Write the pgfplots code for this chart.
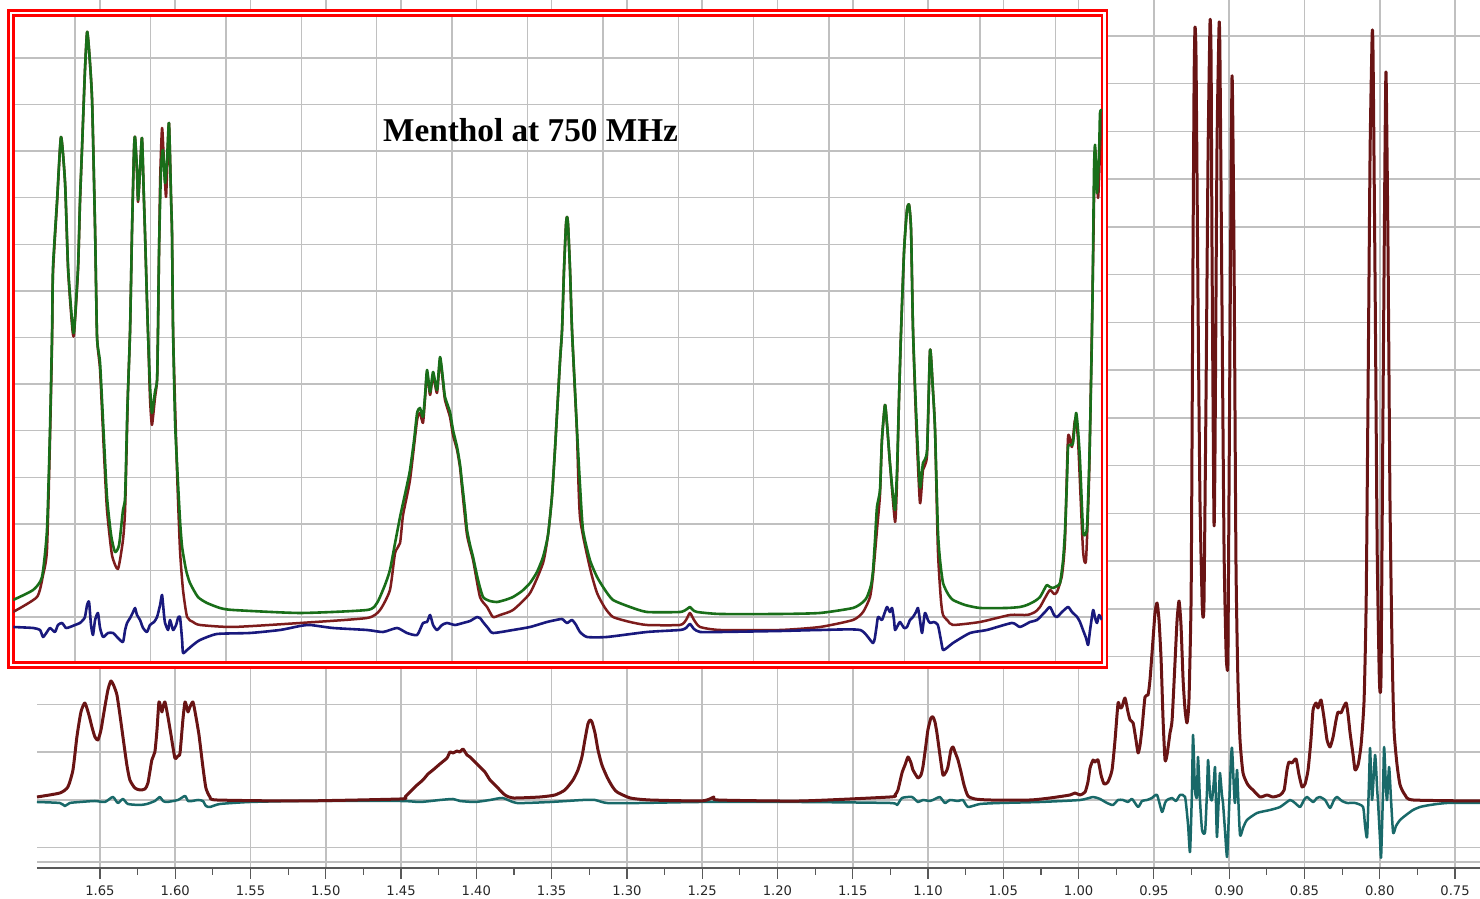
\documentclass[border=0pt]{standalone}
\usepackage{fontspec}
\usepackage{pgfplots}
\pgfplotsset{compat=1.18}
\setmainfont{DejaVu Sans}
\newfontfamily\titlefont{Liberation Serif}
\definecolor{specred}{RGB}{105,20,20}
\definecolor{resteal}{RGB}{25,105,105}
\definecolor{insgreen}{RGB}{25,110,25}
\definecolor{insred}{RGB}{125,28,28}
\definecolor{insblue}{RGB}{25,25,125}
\definecolor{gridgray}{RGB}{192,192,192}
\begin{document}
\begin{tikzpicture}[x=1bp,y=1bp]
\path[use as bounding box] (0,0) rectangle (740,449.5);
\begin{axis}[
  at={(18.5bp,15.5bp)}, anchor=south west, scale only axis,
  width=721.5bp, height=434bp,
  xmin=0.7334, xmax=1.6918, x dir=reverse, ymin=-68, ymax=800,
  clip=false,
  axis line style={draw=none},
  xtick={0.75,0.8,0.85,0.9,0.95,1.0,1.05,1.1,1.15,1.2,1.25,1.3,1.35,1.4,1.45,1.5,1.55,1.6,1.65},
  minor x tick num=1,
  xtick pos=lower, ytick pos=left, tick align=outside,
  major tick length=5.5bp, minor tick length=3.5bp,
  every tick/.style={black!65, line width=0.6bp},
  ytick={-62,-47.75,0,47.75,95.5,143.25,191,238.75,286.5,334.25,382,429.75,477.5,525.25,573,620.75,668.5,716.25,764},
  yticklabels={}, ytick style={draw=none},
  xticklabel style={font=\fontsize{6.6}{7}\selectfont, text=black!85,
    /pgf/number format/fixed, /pgf/number format/fixed zerofill,
    /pgf/number format/precision=2, /pgf/number format/assume math mode=true},
  grid=major, major grid style={gridgray, line width=0.75bp},
  every axis plot/.append style={smooth, tension=0.35, line join=round},
]
\draw[black!65, line width=0.8bp] (rel axis cs:0,0) -- (rel axis cs:1,0);
% residual (teal)
\addplot[resteal, line width=1.25bp] coordinates {
(1.6918,-2)(1.6766,-3)(1.6733,-6)(1.67,-3)(1.6633,-2)(1.6533,-1)(1.6467,-2)(1.6414,3)(1.6381,-3)(1.6347,1)(1.6314,-4)(1.6234,-5)(1.6188,-4)(1.6135,-1)(1.6102,3)(1.6081,-1)(1.6055,-2)(1.5982,0)(1.5935,4)(1.5915,-1)(1.5888,-1)(1.5848,0)(1.5816,-1)(1.5796,-6)(1.5769,-7)(1.5703,-4)(1.5504,-2)(1.5172,-1)(1.4507,-1)(1.4374,-2)(1.4242,0)(1.4155,1)(1.4109,-1)(1.4009,-2)(1.3909,0)(1.3825,2)(1.3731,-3)(1.351,-2)(1.3292,0)(1.3212,0)(1.3132,-3)(1.2913,-3)(1.2515,-2)(1.185,-2)(1.1253,-3)(1.1206,-5)(1.1173,2)(1.1107,3)(1.1067,-2)(1.1034,0)(1.0987,-1)(1.0954,1)(1.0921,3)(1.0888,-3)(1.0855,0)(1.0801,-1)(1.0768,0)(1.0735,-7)(1.0655,-4)(1.0522,-3)(1.0257,-2)(0.999,0)(0.9904,3)(0.9858,1)(0.9811,-3)(0.9772,-5)(0.9738,0)(0.9705,0)(0.9672,-2)(0.9645,1)(0.9605,-7)(0.9579,-1)(0.9546,0)(0.9513,2)(0.9479,5)(0.9446,-12)(0.9426,-3)(0.9413,0)(0.9379,2)(0.9353,-1)(0.9326,5)(0.9293,3)(0.9273,-25)(0.926,-52)(0.9247,10)(0.924,65)(0.9227,10)(0.9214,3)(0.9207,43)(0.9194,0)(0.918,-30)(0.916,-32)(0.9147,10)(0.914,40)(0.9127,5)(0.9114,0)(0.9101,20)(0.9094,33)(0.9088,0)(0.9081,-37)(0.9067,10)(0.9061,27)(0.9048,5)(0.9041,-3)(0.9028,-30)(0.9014,-57)(0.9001,-10)(0.8988,40)(0.8981,52)(0.8968,10)(0.8961,-3)(0.8948,30)(0.8942,10)(0.8928,-35)(0.8908,-28)(0.8882,-20)(0.8815,-13)(0.8729,-10)(0.8662,-7)(0.8596,0)(0.8563,-3)(0.8529,-7)(0.8503,0)(0.8483,3)(0.8443,-2)(0.8417,2)(0.8397,3)(0.8363,0)(0.833,-8)(0.8304,0)(0.8284,3)(0.8251,-1)(0.8217,-3)(0.8164,-3)(0.8111,-7)(0.8098,-25)(0.8084,-37)(0.8071,20)(0.8064,52)(0.8051,0)(0.8031,45)(0.8017,10)(0.8011,-3)(0.7998,-40)(0.7991,-57)(0.7978,10)(0.7971,53)(0.7958,10)(0.7951,0)(0.7938,33)(0.7925,0)(0.7911,-33)(0.7892,-26)(0.7865,-20)(0.7825,-15)(0.7779,-10)(0.7732,-7)(0.7666,-5)(0.7553,-3)(0.7334,-3)
};
% spectrum (maroon)
\addplot[specred, line width=1.5bp] coordinates {
(1.6918,3)(1.6766,7)(1.6713,13)(1.6679,30)(1.6653,63)(1.6626,88)(1.66,97)(1.6573,85)(1.6553,73)(1.6533,63)(1.6513,60)(1.6493,70)(1.6473,88)(1.6447,110)(1.6427,119)(1.6407,114)(1.6387,105)(1.6367,85)(1.6347,63)(1.6321,35)(1.6301,20)(1.6268,12)(1.6234,10)(1.6201,11)(1.6181,17)(1.6155,40)(1.6135,48)(1.6121,70)(1.6108,98)(1.6095,92)(1.6088,88)(1.6081,93)(1.6068,98)(1.6048,83)(1.6028,65)(1.6002,42)(1.5982,44)(1.5968,47)(1.5949,80)(1.5935,98)(1.5922,92)(1.5915,88)(1.5902,93)(1.5882,98)(1.5862,83)(1.5842,65)(1.5816,33)(1.5796,12)(1.5769,3)(1.5723,0)(1.5172,-1)(1.4507,1)(1.4474,3)(1.4441,8)(1.4401,14)(1.4355,20)(1.4321,26)(1.4288,30)(1.4242,36)(1.4195,42)(1.4175,48)(1.4155,47)(1.4129,49)(1.4109,48)(1.4089,51)(1.4062,45)(1.4042,43)(1.4009,38)(1.3976,33)(1.3943,28)(1.3909,20)(1.3863,13)(1.381,5)(1.3757,2)(1.3578,3)(1.3478,5)(1.3412,10)(1.3358,20)(1.3325,30)(1.3299,43)(1.3279,60)(1.3259,76)(1.3245,80)(1.3232,78)(1.3212,67)(1.3192,50)(1.3166,35)(1.3132,23)(1.3099,14)(1.3066,8)(1.2978,2)(1.2847,0)(1.2515,-1)(1.2449,1)(1.2422,3)(1.2395,0)(1.185,-1)(1.1253,3)(1.122,5)(1.12,10)(1.1173,27)(1.1153,35)(1.1133,43)(1.1113,37)(1.11,30)(1.1067,22)(1.1047,25)(1.1034,33)(1.1014,55)(1.1001,70)(1.0981,82)(1.0967,83)(1.0954,78)(1.0941,67)(1.0921,45)(1.0901,25)(1.0881,28)(1.0868,33)(1.0848,50)(1.0834,53)(1.0821,48)(1.0801,40)(1.0781,28)(1.0761,15)(1.0735,4)(1.0688,1)(1.0589,0)(1.0323,0)(1.019,2)(1.0057,5)(1.0024,7)(0.999,5)(0.9957,8)(0.9938,18)(0.9924,32)(0.9904,40)(0.9891,38)(0.9871,40)(0.9851,25)(0.9831,16)(0.9805,18)(0.9778,30)(0.9758,60)(0.9738,97)(0.9725,92)(0.9712,93)(0.9692,102)(0.9672,88)(0.9658,80)(0.9638,77)(0.9619,60)(0.9605,47)(0.9592,55)(0.9578,73)(0.9559,103)(0.9539,105)(0.9526,120)(0.9506,160)(0.9492,188)(0.9479,197)(0.9466,180)(0.9452,140)(0.9439,80)(0.9426,40)(0.9413,45)(0.9393,67)(0.9379,80)(0.9359,140)(0.9346,180)(0.9333,199)(0.932,175)(0.9306,120)(0.9293,90)(0.928,77)(0.9267,100)(0.9253,200)(0.9247,350)(0.924,550)(0.9233,720)(0.9227,773)(0.922,740)(0.9207,500)(0.9194,300)(0.918,200)(0.9174,183)(0.9167,200)(0.9154,400)(0.914,650)(0.9127,779)(0.912,740)(0.9114,550)(0.9101,278)(0.9094,350)(0.9081,650)(0.9067,776)(0.9061,740)(0.9048,500)(0.9034,250)(0.9021,150)(0.9014,132)(0.9008,150)(0.8995,450)(0.8981,724)(0.8968,550)(0.8955,240)(0.8942,120)(0.8928,60)(0.8908,27)(0.8875,15)(0.8842,10)(0.8795,3)(0.8749,5)(0.8709,3)(0.8662,5)(0.8635,10)(0.8616,30)(0.8603,38)(0.8583,37)(0.8556,41)(0.8536,25)(0.8516,13)(0.8496,16)(0.8476,30)(0.8457,60)(0.8443,90)(0.8423,97)(0.841,92)(0.839,100)(0.837,82)(0.835,60)(0.833,53)(0.831,63)(0.829,80)(0.8277,88)(0.8257,87)(0.8243,92)(0.8223,97)(0.821,85)(0.8197,67)(0.8177,45)(0.8164,30)(0.8144,35)(0.8124,55)(0.8104,100)(0.809,200)(0.8077,420)(0.8064,650)(0.805,767)(0.8044,740)(0.803,500)(0.8017,250)(0.8004,130)(0.7998,108)(0.7991,130)(0.7978,400)(0.7965,650)(0.7958,727)(0.7945,550)(0.7932,300)(0.7918,150)(0.7905,70)(0.7885,35)(0.7865,15)(0.7832,5)(0.7779,0)(0.7334,-1)
};
\end{axis}
\fill[white] (4.25,115.75) rectangle (553.5,444.25);
\draw[red, line width=1.05bp] (4.25,115.75) rectangle (553.5,444.25);
\begin{axis}[
  at={(6.75bp,118.25bp)}, anchor=south west, scale only axis,
  width=544.25bp, height=323.5bp,
  xmin=0.9691, xmax=1.6908, x dir=reverse, ymin=0.5, ymax=647.5,
  axis background/.style={fill=white},
  axis line style={red, line width=1.05bp},
  xtick={1.0,1.05,1.1,1.15,1.2,1.25,1.3,1.35,1.4,1.45,1.5,1.55,1.6,1.65},
  ytick={45.9,92.5,139.1,185.7,232.3,278.9,325.5,372.1,418.7,465.3,511.9,558.5,605.1},
  xticklabels={}, yticklabels={}, tick style={draw=none},
  grid=major, major grid style={gridgray, line width=0.75bp},
  clip=true,
  every axis plot/.append style={smooth, tension=0.35, line join=round},
]
\addplot[insred, line width=1.25bp] coordinates {
(1.6911,51)(1.6752,66)(1.6712,88)(1.6686,113)(1.6666,223)(1.6652,323)(1.6646,390)(1.6619,460)(1.6593,526)(1.6566,480)(1.6546,393)(1.652,338)(1.6507,328)(1.648,393)(1.6467,460)(1.6454,513)(1.6434,593)(1.642,631)(1.6407,613)(1.6387,563)(1.6367,433)(1.6354,326)(1.6334,293)(1.6308,210)(1.6288,153)(1.6255,108)(1.6215,94)(1.6182,123)(1.6168,153)(1.6155,233)(1.6149,271)(1.6135,333)(1.6122,433)(1.6109,513)(1.6102,526)(1.6089,490)(1.6082,461)(1.6069,493)(1.6056,525)(1.6043,463)(1.6036,430)(1.6023,363)(1.6016,330)(1.6003,265)(1.599,238)(1.597,265)(1.5956,283)(1.595,333)(1.5936,480)(1.5923,535)(1.591,500)(1.5897,466)(1.589,490)(1.5877,540)(1.5863,463)(1.5857,430)(1.585,333)(1.5824,193)(1.5804,113)(1.5784,73)(1.5757,46)(1.5718,41)(1.5671,38)(1.5452,36)(1.5008,40)(1.4564,45)(1.4478,53)(1.4412,73)(1.4378,110)(1.4345,120)(1.4325,148)(1.4279,183)(1.4232,243)(1.4213,250)(1.4193,240)(1.4179,265)(1.4166,290)(1.4146,268)(1.4126,288)(1.41,270)(1.408,303)(1.406,280)(1.4047,263)(1.4014,246)(1.3994,228)(1.3967,213)(1.3947,195)(1.3934,175)(1.3901,128)(1.3861,103)(1.3815,66)(1.3768,56)(1.3729,46)(1.3682,48)(1.3596,53)(1.3483,70)(1.3397,100)(1.3364,128)(1.3338,166)(1.3318,213)(1.3304,250)(1.3284,303)(1.3271,333)(1.3258,393)(1.3245,438)(1.3238,446)(1.3231,438)(1.3218,393)(1.3205,333)(1.3185,270)(1.3172,230)(1.3152,146)(1.3086,95)(1.3039,70)(1.2986,55)(1.2933,46)(1.282,41)(1.2708,38)(1.2489,38)(1.2449,43)(1.2423,50)(1.2396,43)(1.2356,36)(1.2224,33)(1.1826,33)(1.1561,36)(1.1342,43)(1.1275,51)(1.1229,66)(1.1209,88)(1.1183,133)(1.1163,168)(1.115,223)(1.113,258)(1.1116,238)(1.1097,200)(1.1063,141)(1.105,183)(1.1037,263)(1.1023,333)(1.1003,413)(1.0984,453)(1.097,458)(1.0957,433)(1.0944,333)(1.0924,243)(1.0898,160)(1.0878,193)(1.0851,208)(1.0831,313)(1.0812,273)(1.0798,233)(1.0779,113)(1.0759,63)(1.0745,48)(1.0712,42)(1.0679,38)(1.05,41)(1.0301,48)(1.0188,48)(1.0135,51)(1.0102,56)(1.0069,65)(1.0036,73)(1.0009,69)(0.9989,71)(0.9956,88)(0.9936,123)(0.9916,226)(0.989,216)(0.987,243)(0.985,223)(0.9817,113)(0.9797,103)(0.9777,183)(0.9764,283)(0.975,403)(0.9737,513)(0.9717,465)(0.9704,513)(0.9691,553)
};
\addplot[insgreen, line width=1.3bp] coordinates {
(1.6911,63)(1.6778,73)(1.6719,86)(1.6686,133)(1.6666,233)(1.6652,333)(1.6646,396)(1.6619,463)(1.6593,526)(1.6566,480)(1.6546,396)(1.652,343)(1.6507,331)(1.648,396)(1.6467,463)(1.6454,513)(1.6434,593)(1.642,631)(1.6407,613)(1.6387,563)(1.6367,433)(1.6354,326)(1.6334,300)(1.6308,223)(1.6288,166)(1.6261,128)(1.6235,111)(1.6208,118)(1.6182,153)(1.6168,166)(1.6155,243)(1.6149,271)(1.6135,333)(1.6122,433)(1.6109,513)(1.6102,526)(1.6089,493)(1.6082,463)(1.6069,493)(1.6056,525)(1.6043,463)(1.6036,430)(1.6023,363)(1.6016,330)(1.6003,278)(1.599,250)(1.597,271)(1.5956,283)(1.595,330)(1.5943,413)(1.593,493)(1.5917,513)(1.5903,480)(1.589,503)(1.5877,540)(1.5863,463)(1.5857,430)(1.585,333)(1.5837,243)(1.5824,200)(1.5804,143)(1.579,116)(1.5764,93)(1.5738,80)(1.5685,66)(1.5625,60)(1.5539,55)(1.5452,53)(1.5008,50)(1.4564,53)(1.4498,60)(1.4445,78)(1.4412,93)(1.4378,120)(1.4345,146)(1.4325,160)(1.4299,178)(1.4279,193)(1.4252,223)(1.4232,250)(1.4213,255)(1.4193,246)(1.4179,268)(1.4166,293)(1.4146,271)(1.4126,291)(1.41,273)(1.408,306)(1.406,283)(1.4047,266)(1.4014,251)(1.3994,233)(1.3967,216)(1.3947,198)(1.3934,180)(1.3914,153)(1.3901,133)(1.3881,118)(1.3861,106)(1.3828,83)(1.3795,66)(1.3749,62)(1.3702,61)(1.3649,63)(1.3596,66)(1.3536,72)(1.3483,80)(1.3437,91)(1.3397,106)(1.3364,128)(1.3338,166)(1.3318,213)(1.3304,250)(1.3284,303)(1.3271,333)(1.3258,393)(1.3245,438)(1.3238,446)(1.3231,438)(1.3218,393)(1.3205,333)(1.3185,273)(1.3172,233)(1.3152,178)(1.3132,133)(1.3086,103)(1.3039,86)(1.2986,73)(1.2933,63)(1.282,56)(1.2708,51)(1.2489,51)(1.2442,54)(1.2423,56)(1.2403,53)(1.2376,51)(1.2224,49)(1.1826,49)(1.1561,50)(1.1342,55)(1.1275,61)(1.1249,66)(1.1222,78)(1.1209,93)(1.1196,123)(1.1183,156)(1.1163,173)(1.115,223)(1.113,258)(1.1116,238)(1.1097,200)(1.1077,168)(1.1063,153)(1.105,193)(1.1037,263)(1.1023,333)(1.1003,413)(1.0984,453)(1.097,458)(1.0957,433)(1.0944,333)(1.0924,253)(1.0898,176)(1.0878,200)(1.0851,213)(1.0831,313)(1.0812,273)(1.0798,233)(1.0779,133)(1.0765,103)(1.0745,80)(1.0712,69)(1.0679,63)(1.0599,58)(1.05,55)(1.0321,55)(1.0235,56)(1.0188,58)(1.0135,62)(1.0102,66)(1.0069,75)(1.0056,78)(1.0036,76)(1.0016,75)(0.9989,77)(0.9969,80)(0.9949,103)(0.9936,133)(0.9923,183)(0.9916,216)(0.9896,218)(0.9883,220)(0.9863,250)(0.985,233)(0.9837,203)(0.9817,133)(0.9803,128)(0.979,136)(0.9777,193)(0.977,233)(0.9757,333)(0.975,413)(0.9744,493)(0.9737,518)(0.9724,470)(0.971,513)(0.9704,550)(0.9691,553)
};
\addplot[insblue, line width=1.3bp] coordinates {
(1.6911,36)(1.6778,35)(1.6732,33)(1.6712,26)(1.6686,31)(1.6666,35)(1.6633,31)(1.6613,38)(1.6586,40)(1.656,35)(1.6533,36)(1.65,38)(1.6467,40)(1.6447,43)(1.6434,46)(1.642,58)(1.6407,61)(1.6394,38)(1.6381,28)(1.6367,43)(1.6348,50)(1.6334,35)(1.6314,26)(1.6281,30)(1.6248,30)(1.6215,25)(1.6182,21)(1.6168,33)(1.6155,40)(1.6135,45)(1.6115,51)(1.6102,55)(1.6089,48)(1.6069,43)(1.6049,35)(1.6023,31)(1.6003,38)(1.5976,41)(1.5956,46)(1.5936,58)(1.5923,68)(1.591,48)(1.5903,40)(1.5883,33)(1.587,43)(1.585,33)(1.583,38)(1.5817,45)(1.5804,46)(1.579,23)(1.5784,10)(1.5757,13)(1.5718,18)(1.5671,23)(1.5559,29)(1.534,30)(1.5141,33)(1.5008,37)(1.4942,38)(1.479,35)(1.4564,33)(1.4458,31)(1.4365,35)(1.4299,30)(1.4232,28)(1.4193,40)(1.4166,41)(1.4146,48)(1.4126,38)(1.41,33)(1.4067,38)(1.4034,40)(1.3981,38)(1.3928,40)(1.3881,42)(1.3835,46)(1.3815,45)(1.3795,41)(1.3762,35)(1.3729,30)(1.3596,33)(1.3483,36)(1.3371,41)(1.3311,43)(1.3271,44)(1.3238,40)(1.3205,43)(1.3178,38)(1.3152,31)(1.3105,26)(1.2973,26)(1.2708,31)(1.2489,33)(1.2449,35)(1.2423,39)(1.2396,34)(1.2356,31)(1.2224,31)(1.1826,32)(1.1561,33)(1.1295,33)(1.1209,20)(1.1189,33)(1.1176,46)(1.115,43)(1.113,51)(1.1116,56)(1.1097,51)(1.1083,55)(1.107,43)(1.1063,33)(1.1043,38)(1.103,41)(1.1003,35)(1.0984,36)(1.0964,43)(1.0944,46)(1.0924,51)(1.0911,55)(1.0898,43)(1.0884,30)(1.0865,50)(1.0845,43)(1.0831,40)(1.0805,41)(1.0779,38)(1.0759,23)(1.0745,13)(1.0712,16)(1.0679,20)(1.0566,30)(1.0454,33)(1.0288,40)(1.0235,36)(1.0168,41)(1.0122,43)(1.0069,51)(1.0036,56)(1.0009,48)(0.9989,46)(0.9956,51)(0.9916,56)(0.989,51)(0.9856,46)(0.9837,41)(0.9817,33)(0.9797,25)(0.9783,18)(0.977,33)(0.975,53)(0.9737,45)(0.9724,40)(0.971,48)(0.9691,43)
};
\node[font=\titlefont\bfseries\fontsize{16.7}{18}\selectfont, text=black, inner sep=0pt]
  at (axis cs:1.348,533) {Menthol at 750 MHz};
\end{axis}
\end{tikzpicture}
\end{document}
